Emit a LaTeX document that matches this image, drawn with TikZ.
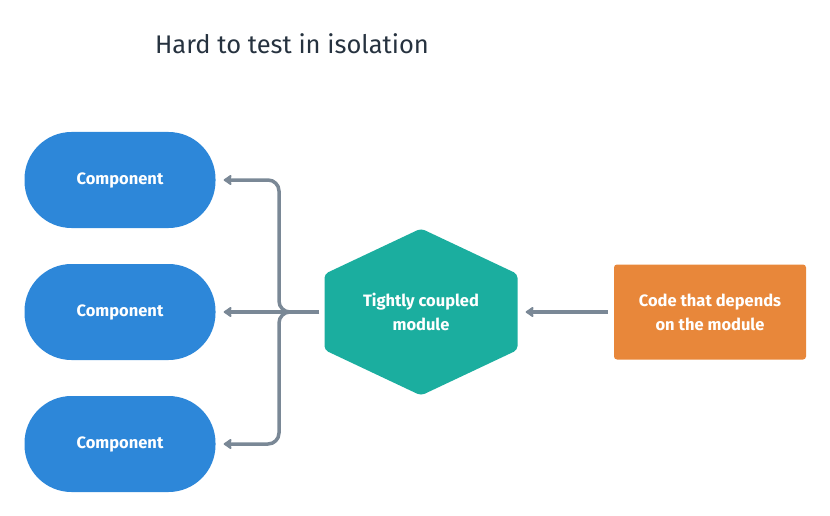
\documentclass[tikz,border=0pt]{standalone}
\usepackage{fontspec}
\setmainfont{Fira Sans}
\usetikzlibrary{arrows.meta, calc, positioning}
\definecolor{compblue}{HTML}{2D87D9}
\definecolor{moduleteal}{HTML}{1BAE9F}
\definecolor{codeorange}{HTML}{E8873A}
\definecolor{linkgray}{HTML}{7A8896}
\definecolor{titleink}{HTML}{26323F}
\newcommand\boxfont{\fontsize{16.5}{24}\selectfont\bfseries}

\begin{document}
\begin{tikzpicture}[x=1pt, y=-1pt, line join=round,
	component/.style={fill=compblue, rounded corners=47pt, minimum width=191pt,
		minimum height=96pt, text=white, font=\boxfont},
	codebox/.style={fill=codeorange, rounded corners=3pt, minimum width=192pt,
		minimum height=95pt, text=white, align=center, font=\boxfont},
	link/.style={draw=linkgray, line width=3.5pt,
		-{Stealth[length=9pt,width=12pt,inset=1.5pt,round]}, shorten >=8pt}]
	
	\useasboundingbox (0,0) rectangle (830,516);
	
	% Hexagon dimensions
	\def\HW{96.5}  % half width
	\def\HH{83.5}  % half height
	\def\HS{38}    % half height of the vertical sides
	
	\node[font=\fontsize{25.5}{30}\selectfont, text=titleink] (title) at (292,44) {Hard to test in isolation};
	
	% --- LEFT: components ---
	\foreach \k/\y in {1/180, 2/312, 3/444}{
		\node[component] (comp\k) at (120,\y) {Component};
	}
	
	% --- MIDDLE: tightly coupled module ---
	\coordinate (hexc) at (421,312);
	\fill[moduleteal, rounded corners=4pt]
		($(hexc)+(0,-\HH)$) -- ($(hexc)+(\HW,-\HS)$) -- ($(hexc)+(\HW,\HS)$)
		-- ($(hexc)+(0,\HH)$) -- ($(hexc)+(-\HW,\HS)$) -- ($(hexc)+(-\HW,-\HS)$) -- cycle;
	\node[minimum width=2*\HW pt, minimum height=2*\HH pt, text=white,
		align=center, font=\boxfont] (module) at (hexc) {Tightly coupled\\module};
	
	% --- RIGHT: dependent code ---
	\node[codebox] (code) at (710,312) {Code that depends\\on the module};
	
	% connectors
	\coordinate (bus) at (279,312);
	\coordinate (split) at (291,312);
	\draw[link, rounded corners=11pt] (split) -| (bus |- comp1.east) -- (comp1.east);
	\draw[link, rounded corners=11pt] (split) -| (bus |- comp3.east) -- (comp3.east);
	\draw[link, shorten <=5pt] (module.west) -- (comp2.east);
	\draw[link, shorten <=6pt] (code.west) -- (module.east);
	
\end{tikzpicture}
\end{document}
